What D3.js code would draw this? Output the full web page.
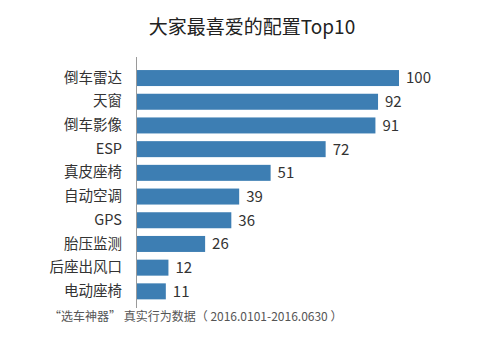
<!DOCTYPE html>
<html>
<head>
<meta charset="utf-8">
<script src="https://cdn.jsdelivr.net/npm/d3@7"></script>
<style>
  html, body { margin: 0; padding: 0; background: #fff; }
  svg { display: block; }
  text { font-family: "Noto Sans CJK SC", "Noto Sans", sans-serif; }
</style>
</head>
<body>
<svg id="chart" width="500" height="337"></svg>
<script>
// Top 10 most popular car features
const categories = ["倒车雷达", "天窗", "倒车影像", "ESP", "真皮座椅", "自动空调", "GPS", "胎压监测", "后座出风口", "电动座椅"];
const values = [100, 92, 91, 72, 51, 39, 36, 26, 12, 11];
const titleText = "大家最喜爱的配置Top10";
const noteText = "“选车神器” 真实行为数据（ 2016.0101-2016.0630 ）";

const svg = d3.select("#chart");

const x = d3.scaleLinear().domain([0, 100]).range([137, 399]);
const y = d3.scaleBand()
  .domain(categories)
  .range([66.2, 303.2])
  .paddingInner(0.325)
  .paddingOuter(0.1625);

// title
svg.append("text")
  .attr("x", 252)
  .attr("y", 34)
  .attr("text-anchor", "middle")
  .attr("font-size", 19)
  .attr("fill", "#222")
  .text(titleText);

// bars
svg.append("g")
  .selectAll("rect")
  .data(values)
  .join("rect")
  .attr("x", x(0))
  .attr("y", (d, i) => y(categories[i]))
  .attr("width", d => x(d) - x(0))
  .attr("height", y.bandwidth())
  .attr("fill", "#3d7eb3");

// value labels
svg.append("g")
  .selectAll("text")
  .data(values)
  .join("text")
  .attr("x", d => x(d) + 7)
  .attr("y", (d, i) => y(categories[i]) + y.bandwidth() / 2)
  .attr("dy", "0.36em")
  .attr("font-size", 15)
  .attr("fill", "#333")
  .text(d => d);

// category axis
const axis = svg.append("g")
  .attr("transform", `translate(${x(0)},0)`)
  .call(d3.axisLeft(y).tickSize(0).tickPadding(15));
axis.select(".domain").remove();
axis.selectAll("text")
  .attr("font-size", 14.5)
  .attr("fill", "#333")
  .attr("font-family", "\"Noto Sans CJK SC\", \"Noto Sans\", sans-serif");

svg.append("line")
  .attr("x1", x(0) - 0.5).attr("x2", x(0) - 0.5)
  .attr("y1", 57).attr("y2", 308)
  .attr("stroke", "#9a9a9a")
  .attr("stroke-width", 1);

// source note
svg.append("text")
  .attr("x", 49)
  .attr("y", 321)
  .attr("font-size", 12)
  .attr("fill", "#555")
  .text(noteText);
</script>
</body>
</html>
